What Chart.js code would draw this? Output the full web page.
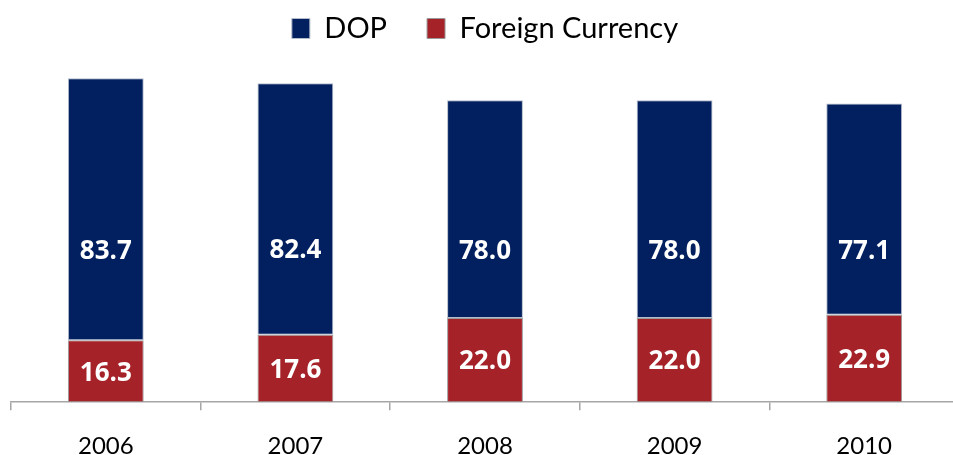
<!DOCTYPE html>
<html>
<head>
<meta charset="utf-8">
<script src="https://cdn.jsdelivr.net/npm/chart.js@4/dist/chart.umd.min.js"></script>
<style>
html,body{margin:0;padding:0;background:#fff;overflow:hidden;}
#wrap{width:960px;height:482px;position:relative;}
</style>
</head>
<body>
<div id="wrap"><canvas id="c"></canvas></div>
<script>
// Categories
const years = ['2006', '2007', '2008', '2009', '2010'];
// Printed share labels (%)
const dopShare = [83.7, 82.4, 78.0, 78.0, 77.1];
const fxShare = [16.3, 17.6, 22.0, 22.0, 22.9];
// Bar segment lengths as drawn in the picture (relative units)
const dopBar = [80.9, 77.7, 67.2, 67.2, 65.2];
const fxBar = [19.1, 20.8, 26.0, 26.0, 27.0];
const seriesNames = ['Foreign Currency', 'DOP'];

const labelPlugin = {
  id: 'segLabels',
  afterDatasetsDraw(chart) {
    const ctx = chart.ctx;
    const texts = [fxShare, dopShare];
    ctx.save();
    ctx.font = 'bold 26px "Open Sans", sans-serif';
    ctx.fillStyle = '#ffffff';
    ctx.textAlign = 'center';
    ctx.textBaseline = 'middle';
    chart.data.datasets.forEach((ds, di) => {
      const meta = chart.getDatasetMeta(di);
      meta.data.forEach((el, i) => {
        const mid = (el.y + el.base) / 2;
        const off = di === 1 ? 42 : 2;
        ctx.fillText(texts[di][i].toFixed(1), el.x, mid + off);
      });
    });
    ctx.restore();
  }
};

new Chart(document.getElementById('c'), {
  type: 'bar',
  data: {
    labels: years,
    datasets: [
      { label: seriesNames[0], data: fxBar, backgroundColor: '#A52229', borderColor: '#9a9a9a', borderWidth: 1, borderSkipped: false },
      { label: seriesNames[1], data: dopBar, backgroundColor: '#02205F', borderColor: '#b4bccb', borderWidth: 1, borderSkipped: false }
    ]
  },
  options: {
    responsive: true,
    maintainAspectRatio: false,
    animation: false,
    layout: { padding: { left: 11, right: 1, top: -26, bottom: 0 } },
    datasets: { bar: { barPercentage: 0.4, categoryPercentage: 1.0 } },
    plugins: {
      legend: {
        position: 'top',
        reverse: true,
        labels: {
          font: { family: 'Lato', size: 29 },
          color: '#000',
          boxWidth: 18,
          boxHeight: 20,
          padding: 40
        }
      },
      tooltip: { enabled: false }
    },
    scales: {
      x: {
        stacked: true,
        grid: { offset: true, drawOnChartArea: false, drawTicks: true, tickLength: 8, color: '#a6a6a6', lineWidth: 1.5 },
        border: { display: true, color: '#a6a6a6', width: 1.5 },
        ticks: { font: { family: 'Lato', size: 24 }, color: '#000', padding: 21.5 }
      },
      y: {
        stacked: true,
        display: false,
        min: 0,
        max: 107.8
      }
    }
  },
  plugins: [labelPlugin]
});
</script>
</body>
</html>
